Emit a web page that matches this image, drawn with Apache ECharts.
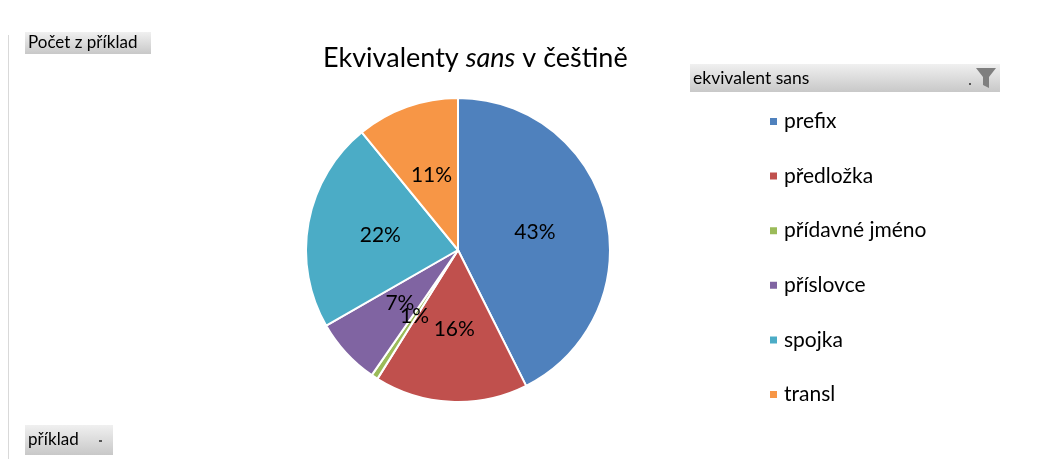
<!DOCTYPE html>
<html>
<head>
<meta charset="utf-8">
<script src="https://cdn.jsdelivr.net/npm/echarts@6/dist/echarts.min.js"></script>
<style>
  html, body { margin: 0; padding: 0; background: #fff; }
  #chart { width: 1053px; height: 459px; }
</style>
</head>
<body>
<div id="chart"></div>
<script>
// kategorie a podíly (v %)
const categories = ["prefix", "předložka", "přídavné jméno", "příslovce", "spojka", "transl"];
const shares = [42.6, 16.3, 0.7, 7.1, 22.4, 10.9];
const colors = ["#4f81bd", "#c0504d", "#9bbb59", "#8064a2", "#4bacc6", "#f79646"];

const font = "Lato, 'Open Sans', sans-serif";

const chart = echarts.init(document.getElementById("chart"));

// šedé tlačítko s přechodem (jako v kontingenčním grafu)
const button = (x, y, w, h, label, size) => ({
  type: "group",
  left: x,
  top: y,
  children: [
    {
      type: "rect",
      shape: { width: w, height: h },
      style: {
        fill: new echarts.graphic.LinearGradient(0, 0, 0, 1, [
          { offset: 0, color: "#f0f0f0" },
          { offset: 1, color: "#c8c8c8" },
        ]),
      },
    },
    {
      type: "text",
      x: 3,
      y: h / 2,
      style: { text: label, font: size + "px " + font, fill: "#000", verticalAlign: "middle" },
    },
  ],
});

chart.setOption({
  animation: false,
  color: colors,
  title: {
    left: 318,
    top: 40,
    text: "{a|Ekvivalenty }{b|sans}{a| v češtině}",
    textStyle: {
      rich: {
        a: { fontFamily: font, fontSize: 27, fontWeight: "normal", color: "#000" },
        b: { fontFamily: font, fontSize: 27, fontWeight: "normal", fontStyle: "italic", color: "#000" },
      },
    },
  },
  legend: {
    orient: "vertical",
    left: 763,
    top: 106,
    itemWidth: 9,
    itemHeight: 9,
    itemGap: 33.6,
    icon: "rect",
    textStyle: { fontFamily: font, fontSize: 21, color: "#000", padding: [0, 0, 0, 1] },
    selectedMode: false,
  },
  graphic: [
    { type: "line", shape: { x1: 8.5, y1: 35, x2: 8.5, y2: 459 }, style: { stroke: "#d9d9d9", lineWidth: 1 } },
    button(25, 32, 126, 22, "Počet z příklad", 17),
    button(690, 64, 310, 28, "ekvivalent sans", 17.5),
    // ikona filtru
    {
      type: "polygon",
      shape: { points: [[976, 68], [996, 68], [989, 77], [989, 88], [983, 85], [983, 77]] },
      style: { fill: "#7f7f7f" },
    },
    { type: "rect", shape: { x: 969, y: 83, width: 2, height: 2 }, style: { fill: "#555" } },
    button(25, 425, 88, 30, "příklad", 17),
    { type: "rect", shape: { x: 99, y: 440, width: 3, height: 2 }, style: { fill: "#555" } },
  ],
  series: [
    {
      type: "pie",
      center: [458, 250],
      radius: [0, 152],
      startAngle: 90,
      clockwise: true,
      percentPrecision: 0,
      avoidLabelOverlap: false,
      minShowLabelAngle: 0,
      itemStyle: { borderColor: "#fff", borderWidth: 2 },
      label: {
        show: true,
        position: "inside",
        formatter: "{d}%",
        fontFamily: font,
        fontSize: 21,
        color: "#000",
      },
      labelLine: { show: false },
      labelLayout: { hideOverlap: false },
      emphasis: { disabled: true },
      data: categories.map((name, i) => ({ name, value: shares[i] })),
    },
  ],
});
</script>
</body>
</html>
